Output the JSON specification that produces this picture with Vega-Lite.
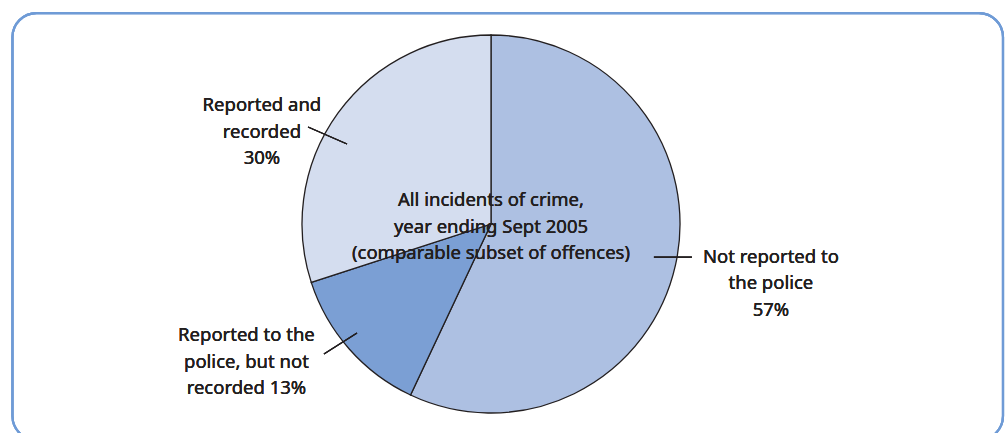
{
  "$schema": "https://vega.github.io/schema/vega-lite/v6.json",
  "width": 1005,
  "height": 433,
  "padding": 0,
  "autosize": {"type": "fit", "contains": "padding"},
  "background": "white",
  "config": {"view": {"stroke": null}, "text": {"font": "Noto Sans", "fontSize": 18.5, "fontWeight": 400, "color": "#231f20"}},
  "data": {"values": [
    {"category": "Not reported to the police", "percent": 57, "order": 1},
    {"category": "Reported to the police, but not recorded", "percent": 13, "order": 2},
    {"category": "Reported and recorded", "percent": 30, "order": 3}
  ]},
  "layer": [
    {
      "mark": {"type": "rect", "fill": null, "stroke": "#6f9bd6", "strokeWidth": 2.2, "cornerRadius": 24, "clip": true},
      "encoding": {
        "x": {"datum": -2.532, "type": "quantitative", "scale": {"domain": [-2.5979, 2.7196], "nice": false, "zero": false}, "axis": null},
        "x2": {"datum": 2.709},
        "y": {"datum": 1.116, "type": "quantitative", "scale": {"domain": [-1.1058, 1.1852], "nice": false, "zero": false}, "axis": null},
        "y2": {"datum": -1.143}
      }
    },
    {
      "mark": {"type": "arc", "outerRadius": 189, "stroke": "#231f20", "strokeWidth": 1.3},
      "encoding": {
        "x": {"datum": 0, "type": "quantitative"},
        "y": {"datum": 0, "type": "quantitative"},
        "theta": {"field": "percent", "type": "quantitative", "stack": true},
        "order": {"field": "order", "type": "quantitative"},
        "color": {"field": "category", "type": "nominal", "legend": null,
          "scale": {"domain": ["Not reported to the police", "Reported to the police, but not recorded", "Reported and recorded"],
                    "range": ["#adc0e2", "#7b9fd4", "#d4ddef"]}}
      }
    },
    {
      "mark": {"type": "rule", "stroke": "#231f20", "strokeWidth": 1.2},
      "encoding": {"x": {"datum": 0.862, "type": "quantitative"}, "x2": {"datum": 1.063}, "y": {"datum": -0.175, "type": "quantitative"}, "y2": {"datum": -0.175}}
    },
    {
      "mark": {"type": "rule", "stroke": "#231f20", "strokeWidth": 1.2},
      "encoding": {"x": {"datum": -0.968, "type": "quantitative"}, "x2": {"datum": -0.762}, "y": {"datum": 0.513, "type": "quantitative"}, "y2": {"datum": 0.423}}
    },
    {
      "mark": {"type": "rule", "stroke": "#231f20", "strokeWidth": 1.2},
      "encoding": {"x": {"datum": -0.884, "type": "quantitative"}, "x2": {"datum": -0.709}, "y": {"datum": -0.688, "type": "quantitative"}, "y2": {"datum": -0.577}}
    },
    {
      "mark": {"type": "text", "align": "center", "baseline": "middle", "lineHeight": 26.5},
      "encoding": {"x": {"datum": 0, "type": "quantitative"}, "y": {"datum": 0.126, "type": "quantitative"},
        "text": {"value": ["All incidents of crime,", "year ending Sept 2005", "(comparable subset of offences)"]}}
    },
    {
      "mark": {"type": "text", "align": "center", "baseline": "middle", "lineHeight": 26.5},
      "encoding": {"x": {"datum": 1.481, "type": "quantitative"}, "y": {"datum": -0.172, "type": "quantitative"},
        "text": {"value": ["Not reported to", "the police", "57%"]}}
    },
    {
      "mark": {"type": "text", "align": "center", "baseline": "middle", "lineHeight": 26.5},
      "encoding": {"x": {"datum": -1.212, "type": "quantitative"}, "y": {"datum": 0.628, "type": "quantitative"},
        "text": {"value": ["Reported and", "recorded", "30%"]}}
    },
    {
      "mark": {"type": "text", "align": "center", "baseline": "middle", "lineHeight": 26.5},
      "encoding": {"x": {"datum": -1.294, "type": "quantitative"}, "y": {"datum": -0.588, "type": "quantitative"},
        "text": {"value": ["Reported to the", "police, but not", "recorded 13%"]}}
    }
  ]
}
